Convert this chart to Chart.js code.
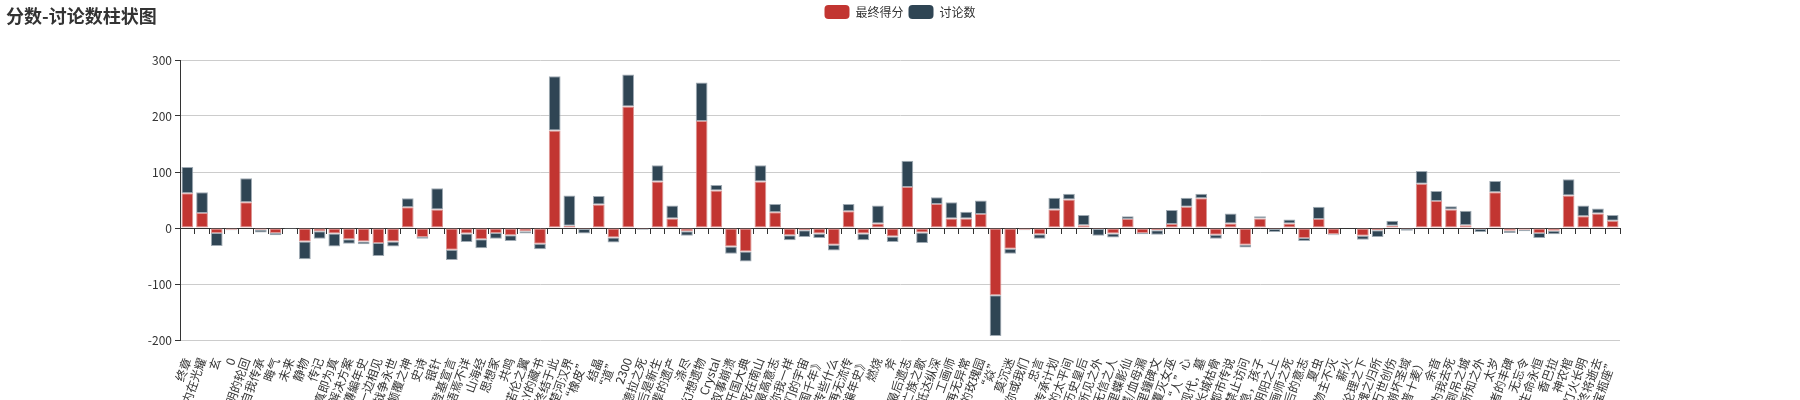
<!DOCTYPE html>
<html>
<head>
<meta charset="utf-8">
<title>分数-讨论数柱状图</title>
<script src="https://cdn.jsdelivr.net/npm/chart.js"></script>
<style>
  body { margin: 0; background: #fff; }
  #wrap { position: relative; width: 1800px; height: 400px; }
  #title { position: absolute; left: 6px; top: 5px; font: bold 18px "Noto Sans CJK SC", sans-serif; line-height: 20px; color: #333; }
</style>
</head>
<body>
<div id="wrap">
  <canvas id="myChart"></canvas>
  <div id="title">分数-讨论数柱状图</div>
</div>
<script>
// 作品名
const categories = [
  '终章', '内在光耀', '玄', '0', '文明的轮回', '自我传承', '晦气', '未来', '静物', '传记',
  '所见的真即为真', '解决方案', '外傳編年史', '在另一边相见', '战争永世', '颠覆之神', '史诗', '银针', '登基宣言', '语焉不详',
  '山海经', '思想家', '共鸣', '诺伦之翼', 'Mr.Y的藏书', '宇宙终结于此', '我们的楚河汉界', '“橡皮”', '结晶', '“道”',
  '2300', '卡桑德拉之死', '死亡然后是新生', '来自父辈的遗产', '涤尽', '幻想遗物', 'Crystal', '宏大叙事崩溃', '开国大典', '死在南山',
  '意识/最高意志', '和你我一样', '我们的宇宙', '《帝国千年》', '还能流传些什么', '再无流传', '《星际编年史》', '燃烧', '斧', '最后遗志',
  '亡族之歌', '我们抵达纵深', '工画师', '再无异常', '被遗忘的玫瑰园', '“焱”', '莫沉迷', '是我你或我们', '忠言', '传承计划',
  '最后的太平间', '被遗忘的历史皇后', '所见之外', '无信之人', '梦里蝶影仙', '蝶/血母漏', '地里鐘碑文', '覆灭女巫', '可见“人”心', '现代，墓',
  '长城枯骨', '都市传说', '禁止访问', '安息，孩子', '阴阳之上', '工画师之死', '最后的意志', '夏虫', '造物主不灭', '薪火',
  '人类的伦理之下', '魂之归所', '万世创伤', '崩坏圣域', '（普十麦）', '余音', '以为我去死', '倒吊之城', '所知之外', '太岁',
  '逝者的丰碑', '无忘令', '没有生命永恒', '香巴拉', '神农棺', '灯火长明', '一切终将逝去', '“宝瓶座”'
];

// 最终得分
const scores = [
  62, 27, -9, -3, 46, -3, -9, -1, -24, -6,
  -10, -20, -24, -27, -24, 37, -16, 33, -39, -10,
  -20, -9, -13, -6, -28, 174, 4, -2, 42, -17,
  217, -2, 83, 17, -6, 191, 67, -33, -42, 83,
  28, -13, -4, -10, -30, 30, -10, 8, -15, 73,
  -8, 43, 17, 17, 25, -120, -37, -3, -11, 33,
  51, 5, -2, -10, 16, -9, -4, 7, 38, 53,
  -12, 8, -30, 17, -2, 8, -18, 16, -11, -1,
  -14, -4, 4, -2, 79, 48, 33, 5, -2, 64,
  -5, -3, -9, -5, 58, 21, 26, 13
];

// 讨论数
const discussions = [
  47, 37, -23, -1, 43, -5, -4, -1, -32, -13,
  -23, -8, -5, -23, -9, 16, -3, 38, -18, -15,
  -16, -10, -10, -4, -10, 97, 54, -8, 15, -9,
  57, -1, 29, 23, -8, 69, 10, -13, -18, 29,
  15, -9, -12, -8, -10, 13, -12, 32, -10, 47,
  -19, 12, 29, 12, 24, -73, -9, -1, -8, 21,
  10, 18, -12, -7, 5, -2, -8, 25, 16, 8,
  -7, 18, -5, 4, -5, 7, -5, 22, -2, 0,
  -7, -12, 9, -3, 23, 18, 6, 26, -5, 20,
  -4, -3, -9, -6, 29, 19, 9, 10
];

const yTicks = [-200, -100, 0, 100, 200, 300];

Chart.defaults.font.family = '"Noto Sans CJK SC", "Noto Sans", sans-serif';
Chart.defaults.font.size = 12;
Chart.defaults.color = '#333';

const data = {
  labels: categories,
  datasets: [{
    label: '最终得分',
    data: scores,
    backgroundColor: '#c23531',
    borderColor: '#dc9593',
    borderWidth: 1,
    borderSkipped: false,
    stack: 'total'
  }, {
    label: '讨论数',
    data: discussions,
    backgroundColor: '#2f4554',
    borderColor: '#9faab3',
    borderWidth: 1,
    borderSkipped: false,
    stack: 'total'
  }]
};

const config = {
  type: 'bar',
  data: data,
  options: {
    responsive: true,
    maintainAspectRatio: false,
    animation: false,
    categoryPercentage: 0.8,
    barPercentage: 1.0,
    layout: { padding: 0 },
    plugins: {
      tooltip: { enabled: false },
      legend: {
        position: 'top',
        labels: {
          boxWidth: 25,
          boxHeight: 14,
          padding: 5,
          color: '#333',
          useBorderRadius: true,
          borderRadius: 4,
          generateLabels: (chart) =>
            Chart.defaults.plugins.legend.labels.generateLabels(chart).map(l => ({ ...l, lineWidth: 0, strokeStyle: l.fillStyle }))
        }
      },
      // 图例与绘图区之间的空白
      subtitle: {
        display: true,
        text: '',
        weight: 500,
        padding: 0,
        font: { size: 12, lineHeight: '31px' }
      }
    },
    scales: {
      x: {
        stacked: true,
        grid: { display: false },
        border: { display: false },
        ticks: { autoSkip: false, minRotation: 70, maxRotation: 70, color: '#333', padding: 8 },
        afterFit: (scale) => { scale.height = 60; scale.paddingRight = 180; }
      },
      x2: {
        type: 'category',
        labels: categories,
        position: { y: 0 },
        offset: true,
        grid: { display: true, drawOnChartArea: false, offset: true, tickLength: 5, tickColor: '#333' },
        border: { display: true, color: '#333' },
        ticks: { display: false, autoSkip: false }
      },
      y: {
        stacked: true,
        min: yTicks[0],
        max: yTicks[yTicks.length - 1],
        ticks: { stepSize: 100, color: '#333', padding: 3 },
        grid: { color: '#ccc', tickColor: '#333', tickLength: 5 },
        border: { display: true, color: '#333' },
        afterFit: (scale) => { scale.width = 180; }
      }
    }
  }
};

const ctx = document.getElementById('myChart').getContext('2d');
const myChart = new Chart(ctx, config);
</script>
</body>
</html>
